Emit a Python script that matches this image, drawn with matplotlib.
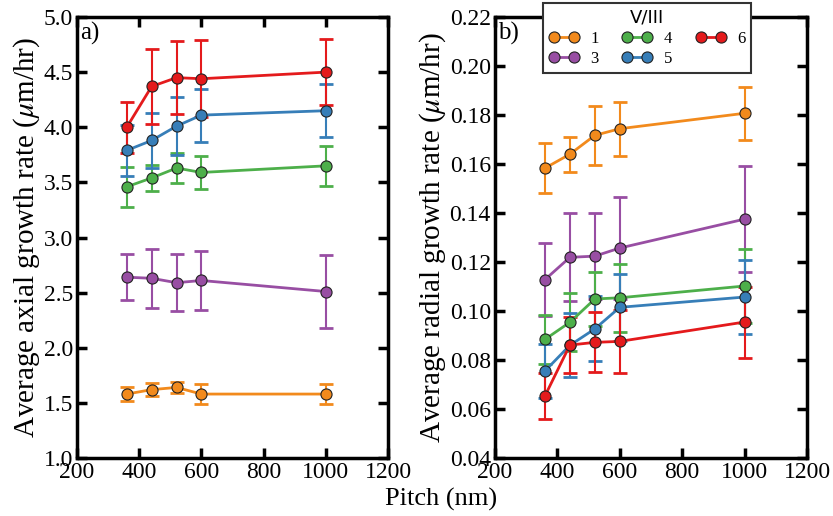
import numpy as np
import matplotlib
matplotlib.use("Agg")
import matplotlib.pyplot as plt
from matplotlib.ticker import FormatStrFormatter

plt.rcParams['font.family'] = ['Liberation Serif', 'DejaVu Serif']
plt.rcParams['mathtext.fontset'] = 'stix'

pitch = [360, 440, 520, 600, 1000]
ratios = ['1', '3', '4', '5', '6']
colors = ['#f28a1c', '#984ea3', '#4daf4a', '#377eb8', '#e41a1c']

# axial growth rate (um/hr) and error bars, one row per V/III ratio
axial = [
    [1.58, 1.62, 1.64, 1.58, 1.58],
    [2.64, 2.63, 2.59, 2.61, 2.51],
    [3.46, 3.54, 3.63, 3.59, 3.65],
    [3.79, 3.88, 4.01, 4.11, 4.15],
    [4.00, 4.37, 4.45, 4.44, 4.50],
]
axial_err = [
    [0.06, 0.06, 0.05, 0.09, 0.09],
    [0.21, 0.27, 0.26, 0.27, 0.33],
    [0.18, 0.12, 0.135, 0.15, 0.18],
    [0.23, 0.25, 0.26, 0.24, 0.24],
    [0.23, 0.34, 0.33, 0.35, 0.30],
]

# radial growth rate (um/hr)
radial = [
    [0.1583, 0.1640, 0.1717, 0.1744, 0.1807],
    [0.1128, 0.1219, 0.1224, 0.1257, 0.1375],
    [0.0884, 0.0954, 0.1049, 0.1054, 0.1102],
    [0.0755, 0.0860, 0.0927, 0.1015, 0.1057],
    [0.0653, 0.0861, 0.0872, 0.0876, 0.0955],
]
radial_err = [
    [0.0101, 0.0072, 0.0120, 0.0110, 0.0107],
    [0.0150, 0.0180, 0.0176, 0.0210, 0.0215],
    [0.0100, 0.0118, 0.0110, 0.0139, 0.0150],
    [0.0110, 0.0130, 0.0133, 0.0138, 0.0150],
    [0.0095, 0.0116, 0.0122, 0.0130, 0.0145],
]

fig = plt.figure(figsize=(8.33, 5.16), dpi=100)
ax1 = fig.add_axes([77/833, 1-458/516, 311/833, 441/516])
ax2 = fig.add_axes([495/833, 1-458/516, 312/833, 441/516])


def draw(ax, vals, errs):
    handles = []
    for v, e, c, lab in zip(vals, errs, colors, ratios):
        ax.errorbar(pitch, v, yerr=e, fmt='none', ecolor=c, elinewidth=1.5,
                    capsize=5, capthick=2, zorder=2)
        h, = ax.plot(pitch, v, '-o', color=c, lw=2, ms=8, mfc=c,
                     mec='#222222', mew=0.8, zorder=3, label=lab)
        handles.append(h)
    ax.set_xlim(200, 1200)
    ax.set_xticks([200, 400, 600, 800, 1000, 1200])
    ax.tick_params(direction='in', which='both', top=True, right=True,
                   labelsize=17, width=2.5, length=7, pad=3)
    for s in ax.spines.values():
        s.set_linewidth(2.5)
    return handles


draw(ax1, axial, axial_err)
ax1.set_ylim(1.0, 5.0)
ax1.set_yticks(np.arange(1.0, 5.01, 0.5))
ax1.yaxis.set_major_formatter(FormatStrFormatter('%.1f'))
ax1.set_ylabel(r'Average axial growth rate ($\mu$m/hr)', fontsize=21, labelpad=1)
ax1.text(0.01, 0.99, 'a)', transform=ax1.transAxes, fontsize=18, va='top')

hs = draw(ax2, radial, radial_err)
ax2.set_ylim(0.04, 0.22)
ax2.set_yticks(np.arange(0.04, 0.2201, 0.02))
ax2.yaxis.set_major_formatter(FormatStrFormatter('%.2f'))
ax2.set_ylabel(r'Average radial growth rate ($\mu$m/hr)', fontsize=21, labelpad=1)
ax2.text(0.01, 0.99, 'b)', transform=ax2.transAxes, fontsize=18, va='top')

fig.text(441/833, 1-499/516, 'Pitch (nm)', fontsize=19, ha='center', va='center')

leg = fig.legend(handles=hs, ncol=3, loc='upper left',
                 bbox_to_anchor=(543/833, 1-3/516), frameon=True, fancybox=False,
                 framealpha=1, edgecolor='#333333', fontsize=12, title='V/III',
                 title_fontproperties={'family': 'DejaVu Sans', 'size': 13},
                 numpoints=2, handlelength=1.8, columnspacing=1.4, borderpad=0.35,
                 labelspacing=0.25, handletextpad=0.7, borderaxespad=0)
leg.get_frame().set_linewidth(1.5)
leg.set_zorder(10)

fig.savefig('out.png', dpi=100)
